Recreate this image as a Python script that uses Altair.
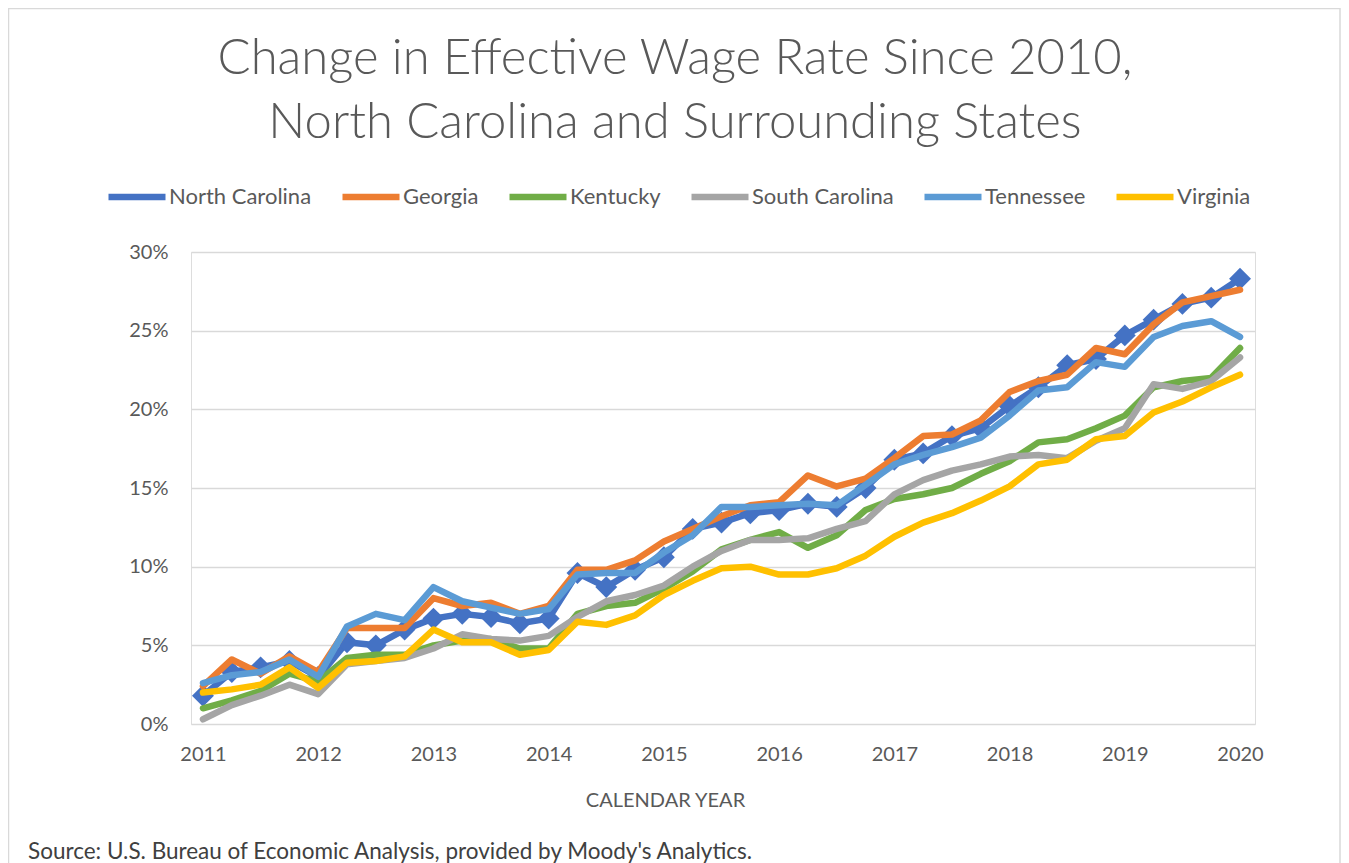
import altair as alt
import pandas as pd

quarters = [2011.00, 2011.25, 2011.50, 2011.75,
            2012.00, 2012.25, 2012.50, 2012.75,
            2013.00, 2013.25, 2013.50, 2013.75,
            2014.00, 2014.25, 2014.50, 2014.75,
            2015.00, 2015.25, 2015.50, 2015.75,
            2016.00, 2016.25, 2016.50, 2016.75,
            2017.00, 2017.25, 2017.50, 2017.75,
            2018.00, 2018.25, 2018.50, 2018.75,
            2019.00, 2019.25, 2019.50, 2019.75,
            2020.00]

north_carolina = [1.8, 3.3, 3.6, 4.0, 3.0, 5.2, 5.0, 6.0, 6.7, 7.0, 6.8, 6.4,
                  6.7, 9.6, 8.7, 9.8, 10.6, 12.4, 12.8, 13.4, 13.6, 14.0, 13.8, 15.0,
                  16.8, 17.2, 18.3, 18.8, 20.2, 21.4, 22.8, 23.2, 24.7, 25.7, 26.7, 27.1,
                  28.3]
georgia = [2.4, 4.1, 3.2, 4.3, 3.3, 6.1, 6.1, 6.1, 8.0, 7.5, 7.7, 7.0,
           7.5, 9.8, 9.8, 10.4, 11.6, 12.4, 13.2, 13.9, 14.1, 15.8, 15.1, 15.6,
           16.9, 18.3, 18.4, 19.3, 21.1, 21.8, 22.2, 23.9, 23.5, 25.4, 26.8, 27.2,
           27.6]
kentucky = [1.0, 1.5, 2.1, 3.2, 2.7, 4.2, 4.4, 4.4, 5.0, 5.3, 5.4, 4.8,
            4.8, 7.0, 7.5, 7.7, 8.6, 9.7, 11.1, 11.7, 12.2, 11.2, 12.0, 13.6,
            14.3, 14.6, 15.0, 15.9, 16.7, 17.9, 18.1, 18.8, 19.6, 21.4, 21.8, 22.0,
            23.9]
south_carolina = [0.3, 1.2, 1.8, 2.5, 1.9, 3.8, 4.0, 4.2, 4.8, 5.7, 5.4, 5.3,
                  5.6, 6.8, 7.8, 8.2, 8.8, 10.0, 11.0, 11.7, 11.7, 11.8, 12.4, 12.9,
                  14.6, 15.5, 16.1, 16.5, 17.0, 17.1, 16.9, 18.0, 18.8, 21.6, 21.3, 21.8,
                  23.3]
tennessee = [2.6, 3.1, 3.3, 4.1, 3.0, 6.2, 7.0, 6.6, 8.7, 7.8, 7.4, 7.0,
             7.3, 9.5, 9.6, 9.6, 10.9, 12.0, 13.8, 13.8, 13.9, 14.0, 13.9, 15.2,
             16.5, 17.1, 17.6, 18.2, 19.6, 21.2, 21.4, 23.0, 22.7, 24.6, 25.3, 25.6,
             24.6]
virginia = [2.0, 2.2, 2.5, 3.6, 2.3, 3.9, 4.0, 4.3, 6.0, 5.2, 5.2, 4.4,
            4.7, 6.5, 6.3, 6.9, 8.2, 9.1, 9.9, 10.0, 9.5, 9.5, 9.9, 10.7,
            11.9, 12.8, 13.4, 14.2, 15.1, 16.5, 16.8, 18.1, 18.3, 19.8, 20.5, 21.4,
            22.2]

states = ["North Carolina", "Georgia", "Kentucky", "South Carolina", "Tennessee", "Virginia"]
series = [north_carolina, georgia, kentucky, south_carolina, tennessee, virginia]
colors = ["#4472C4", "#ED7D31", "#70AD47", "#A5A5A5", "#5B9BD5", "#FFC000"]
year_ticks = [2011, 2012, 2013, 2014, 2015, 2016, 2017, 2018, 2019, 2020]
pct_ticks = [0, 5, 10, 15, 20, 25, 30]

title_lines = ["Change in Effective Wage Rate Since 2010,",
               "North Carolina and Surrounding States"]
x_title = "CALENDAR YEAR"
source_note = ["Source: U.S. Bureau of Economic Analysis, provided by Moody's Analytics."]

rows = []
for st, vals in zip(states, series):
    for q, v in zip(quarters, vals):
        rows.append({"quarter": q, "state": st, "value": v})
df = pd.DataFrame(rows)

FONT = "Lato"
GRAY = "#595959"

color_scale = alt.Scale(domain=states, range=colors)
x_enc = alt.X("quarter:Q",
              scale=alt.Scale(domain=[2010.896, 2020.13], nice=False, zero=False),
              axis=alt.Axis(values=year_ticks, format="d", ticks=False, domain=False,
                            grid=False, labelFont=FONT, labelFontSize=20,
                            labelColor=GRAY, labelPadding=20,
                            title=x_title, titleFont=FONT, titleFontSize=20,
                            titleFontWeight="normal", titleColor=GRAY,
                            titleX=474, titleY=76, titleBaseline="middle",
                            titleAnchor="start", titleAlign="center"))
y_enc = alt.Y("value:Q",
              scale=alt.Scale(domain=[0, 30], nice=False),
              axis=alt.Axis(values=pct_ticks, labelExpr="datum.value + '%'",
                            ticks=False, domain=False, grid=True,
                            gridColor="#D9D9D9", gridWidth=1.5,
                            labelFont=FONT, labelFontSize=20, labelColor=GRAY,
                            labelPadding=23, title=None))
color_enc = alt.Color("state:N", scale=color_scale,
                      legend=alt.Legend(title=None, orient="none",
                                        direction="horizontal", columns=6,
                                        legendX=-86, legendY=-87,
                                        symbolType="stroke", symbolSize=3249,
                                        symbolStrokeWidth=6.5,
                                        labelFont=FONT, labelFontSize=22,
                                        labelColor=GRAY, labelOffset=0,
                                        columnPadding=17, padding=0))

base = alt.Chart(df)

layers = []
for i, st in enumerate(states):
    layers.append(
        base.transform_filter(alt.datum.state == st)
        .mark_line(strokeWidth=6.5, strokeCap="round", strokeJoin="round")
        .encode(x=x_enc, y=y_enc, color=color_enc)
    )
    if i == 0:
        layers.append(
            base.transform_filter(alt.datum.state == st)
            .mark_point(shape="diamond", filled=True, size=480, opacity=1)
            .encode(x=x_enc, y=y_enc, color=alt.Color("state:N", scale=color_scale, legend=None))
        )

source = alt.Chart(alt.Data(values=[{"t": s} for s in source_note])).mark_text(
    align="left", baseline="middle", font=FONT, fontSize=22.5, color="#404040"
).encode(text="t:N", x=alt.value(-163), y=alt.value(600))

border = alt.Chart(alt.Data(values=[{}])).mark_rect(
    fill=None, stroke="#D9D9D9", strokeWidth=1.5
).encode(x=alt.value(-182.5), x2=alt.value(1149), y=alt.value(-243.5), y2=alt.value(640))

chart = alt.layer(border, *layers, source).properties(
    width=1064, height=472,
    title=alt.TitleParams(text=title_lines, font=FONT, fontSize=49, fontWeight=300,
                          color=GRAY, anchor="middle", dx=-48, offset=-140,
                          lineHeight=64),
    autosize=alt.AutoSizeParams(type="none"),
    padding={"left": 183, "top": 244, "right": 86, "bottom": 139},
).configure_view(stroke=None).configure(background="white")

chart.save("out.html", embed_options={"renderer": "svg", "actions": False})
